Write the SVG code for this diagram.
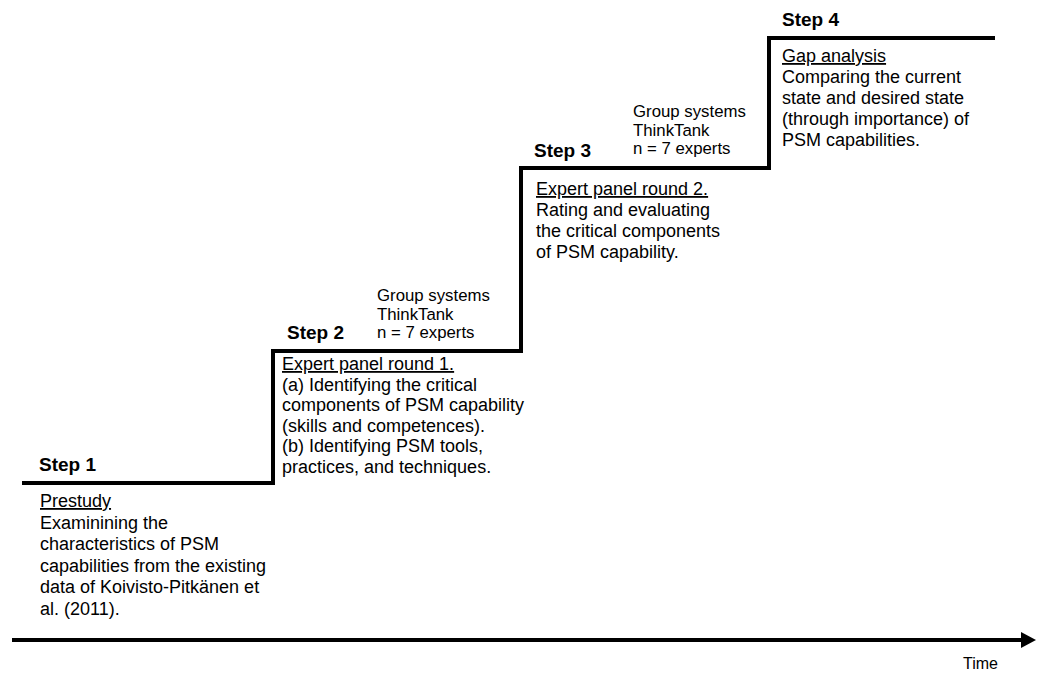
<svg xmlns="http://www.w3.org/2000/svg" width="1038" height="673" viewBox="0 0 1038 673">
  <style>
    text { font-family: "Liberation Sans", Arial, sans-serif; fill: #000; }
    .step { font-size: 19px; font-weight: bold; }
    .body { font-size: 18px; }
    .tool { font-size: 16.8px; }
    .time { font-size: 16px; }
    .u { text-decoration: underline; }
    .stair { fill: none; stroke: #000; stroke-width: 4; stroke-linejoin: miter; }
    .axis { stroke: #000; stroke-width: 4; }
  </style>
  <defs>
    <marker id="arrow" markerUnits="userSpaceOnUse" markerWidth="16" markerHeight="18" refX="1" refY="8" orient="auto">
      <path d="M0,0 L15,8 L0,16 Z" fill="#000"/>
    </marker>
  </defs>

  <!-- staircase and time axis -->
  <g id="connectors">
    <path class="stair" d="M22,483 H273 V351 H521 V168 H769 V38 H995"/>
    <line class="axis" x1="12" y1="640" x2="1022" y2="640" marker-end="url(#arrow)"/>
  </g>

  <g id="step1">
    <text class="step" x="39" y="471">Step 1</text>
    <text class="body" x="40" y="507">
      <tspan class="u">Prestudy</tspan>
      <tspan x="40" dy="21.6">Examinining the</tspan>
      <tspan x="40" dy="21.6">characteristics of PSM</tspan>
      <tspan x="40" dy="21.6">capabilities from the existing</tspan>
      <tspan x="40" dy="21.6">data of Koivisto-Pitkänen et</tspan>
      <tspan x="40" dy="21.6">al. (2011).</tspan>
    </text>
  </g>

  <g id="step2">
    <text class="step" x="287" y="339">Step 2</text>
    <text class="tool" x="377" y="301">
      <tspan x="377">Group systems</tspan>
      <tspan x="377" dy="18.5">ThinkTank</tspan>
      <tspan x="377" dy="18.5">n = 7 experts</tspan>
    </text>
    <text class="body" x="282" y="370">
      <tspan class="u">Expert panel round 1.</tspan>
      <tspan x="282" dy="20.6">(a) Identifying the critical</tspan>
      <tspan x="282" dy="20.6">components of PSM capability</tspan>
      <tspan x="282" dy="20.6">(skills and competences).</tspan>
      <tspan x="282" dy="20.6">(b) Identifying PSM tools,</tspan>
      <tspan x="282" dy="20.6">practices, and techniques.</tspan>
    </text>
  </g>

  <g id="step3">
    <text class="step" x="534" y="157">Step 3</text>
    <text class="tool" x="633" y="117">
      <tspan x="633">Group systems</tspan>
      <tspan x="633" dy="18.5">ThinkTank</tspan>
      <tspan x="633" dy="18.5">n = 7 experts</tspan>
    </text>
    <text class="body" x="536" y="195">
      <tspan class="u">Expert panel round 2.</tspan>
      <tspan x="536" dy="21">Rating and evaluating</tspan>
      <tspan x="536" dy="21">the critical components</tspan>
      <tspan x="536" dy="21">of PSM capability.</tspan>
    </text>
  </g>

  <g id="step4">
    <text class="step" x="782" y="26">Step 4</text>
    <text class="body" x="782" y="62">
      <tspan class="u">Gap analysis</tspan>
      <tspan x="782" dy="21">Comparing the current</tspan>
      <tspan x="782" dy="21">state and desired state</tspan>
      <tspan x="782" dy="21">(through importance) of</tspan>
      <tspan x="782" dy="21">PSM capabilities.</tspan>
    </text>
  </g>

  <g id="time-label">
    <text class="time" x="963" y="669">Time</text>
  </g>
</svg>
